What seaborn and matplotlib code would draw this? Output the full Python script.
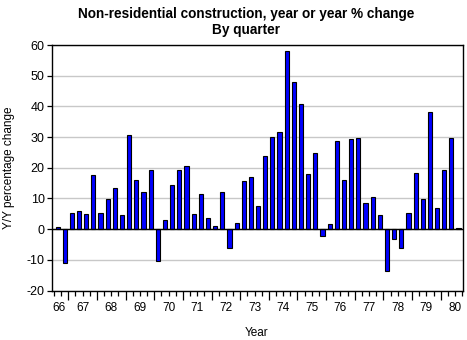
import matplotlib
matplotlib.use("Agg")
import matplotlib.pyplot as plt
import seaborn as sns
import pandas as pd
import numpy as np

# Non-residential construction, Y/Y % change by quarter, 1966Q3 - 1980Q3
periods = [
    "1966Q3", "1966Q4",
    "1967Q1", "1967Q2", "1967Q3", "1967Q4",
    "1968Q1", "1968Q2", "1968Q3", "1968Q4",
    "1969Q1", "1969Q2", "1969Q3", "1969Q4",
    "1970Q1", "1970Q2", "1970Q3", "1970Q4",
    "1971Q1", "1971Q2", "1971Q3", "1971Q4",
    "1972Q1", "1972Q2", "1972Q3", "1972Q4",
    "1973Q1", "1973Q2", "1973Q3", "1973Q4",
    "1974Q1", "1974Q2", "1974Q3", "1974Q4",
    "1975Q1", "1975Q2", "1975Q3", "1975Q4",
    "1976Q1", "1976Q2", "1976Q3", "1976Q4",
    "1977Q1", "1977Q2", "1977Q3", "1977Q4",
    "1978Q1", "1978Q2", "1978Q3", "1978Q4",
    "1979Q1", "1979Q2", "1979Q3", "1979Q4",
    "1980Q1", "1980Q2", "1980Q3",
]
pct_change = [
    0.7, -10.9,
    5.2, 5.9, 4.9, 17.7,
    5.2, 9.8, 13.5, 4.7,
    30.8, 16.0, 12.2, 19.4,
    -10.5, 3.1, 14.4, 19.4,
    20.6, 4.9, 11.5, 3.6,
    1.0, 12.2, -6.2, 2.0,
    15.7, 17.0, 7.6, 23.9,
    30.1, 31.8, 57.9, 47.8,
    40.9, 18.0, 24.9, -2.4,
    1.6, 28.8, 16.0, 29.4,
    29.8, 8.5, 10.5, 4.6,
    -13.5, -3.1, -6.0, 5.2,
    18.3, 9.8, 38.3, 6.9,
    19.3, 29.8, 0.3,
]
year_labels = ["66", "67", "68", "69", "70", "71", "72", "73",
               "74", "75", "76", "77", "78", "79", "80"]

sns.set_theme(style="white")
plt.rcParams["font.family"] = ["Liberation Sans", "DejaVu Sans"]
plt.rcParams["axes.unicode_minus"] = False
plt.rcParams["text.color"] = "black"
plt.rcParams["axes.labelcolor"] = "black"
plt.rcParams["xtick.color"] = "black"
plt.rcParams["ytick.color"] = "black"

# position each quarter at its centre, in two-digit-year units
df = pd.DataFrame({"period": periods, "pct": pct_change})
df["yr"] = df["period"].str[2:4].astype(int)
df["q"] = df["period"].str[-1].astype(int)
df["x"] = df["yr"] + (df["q"] - 0.5) / 4.0

fig = plt.figure(figsize=(4.67, 3.40), dpi=100)
ax = fig.add_axes([52.3 / 467, 1 - 290.5 / 340, (463.3 - 52.3) / 467, (290.5 - 45) / 340])

sns.barplot(data=df, x="x", y="pct", native_scale=True, width=0.58,
            color="#0000FF", saturation=1, edgecolor="black", linewidth=0.8,
            ax=ax, zorder=3)

ax.set_ylim(-20, 60)
ax.set_xlim(66.44, 80.79)
ax.set_yticks(np.arange(-20, 61, 10))
ax.set_yticklabels([str(v) for v in range(-20, 61, 10)], fontsize=9)
ax.yaxis.grid(True, color="#C8C8C8", linewidth=1.0, zorder=0)
ax.axhline(0, color="black", linewidth=1.0, zorder=4)

# year boundaries as long ticks, quarter boundaries as short ticks
first_year = int(year_labels[0]) + 1
last_year = int(year_labels[-1])
ax.set_xticks(np.arange(first_year, last_year + 1))
ax.set_xticks(np.arange(66.5, 80.76, 0.25), minor=True)
ax.set_xticklabels([])
ax.tick_params(axis="x", which="major", length=6.5, width=0.9, color="black",
               direction="out", bottom=True)
ax.tick_params(axis="x", which="minor", length=3.5, width=0.9, color="black",
               direction="out", bottom=True)
ax.tick_params(axis="y", which="major", length=3.5, width=0.9, color="black",
               direction="out", left=True, pad=2)

# year names centred in their span
label_pos = [66.68] + [int(y) + 0.5 for y in year_labels[1:]]
for pos, lab in zip(label_pos, year_labels):
    ax.text(pos, -0.045, lab, transform=ax.get_xaxis_transform(),
            ha="center", va="top", fontsize=8.5, color="black")

for s in ax.spines.values():
    s.set_color("black")
    s.set_linewidth(1.0)
    s.set_visible(True)

ax.set_xlabel("")
ax.set_ylabel("")
fig.text(9 / 467, 1 - 168 / 340, "Y/Y percentage change", rotation=90,
         ha="center", va="center", fontsize=8.5, color="black")
fig.text(257 / 467, 1 - 333 / 340, "Year", ha="center", va="center",
         fontsize=8.5, color="black")

fig.text(246 / 467, 1 - 14 / 340, "Non-residential construction, year or year % change",
         ha="center", va="center", fontsize=9.8, fontweight="bold", color="black")
fig.text(246 / 467, 1 - 30 / 340, "By quarter",
         ha="center", va="center", fontsize=9.8, fontweight="bold", color="black")

fig.savefig("out.png", dpi=100)
